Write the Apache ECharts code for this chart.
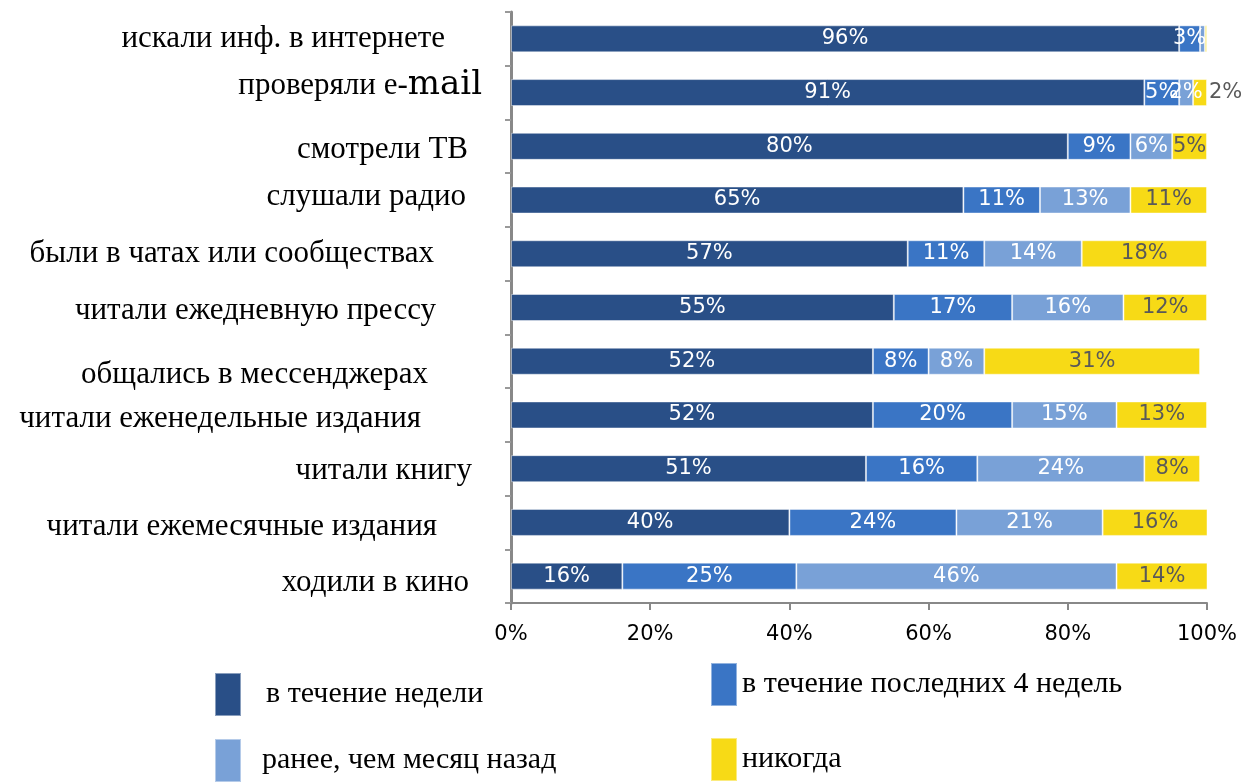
<!DOCTYPE html>
<html>
<head>
<meta charset="utf-8">
<script src="https://cdn.jsdelivr.net/npm/echarts@6/dist/echarts.min.js"></script>
<style>
  html, body { margin: 0; padding: 0; background: #ffffff; }
  #chart { width: 1241px; height: 782px; }
</style>
</head>
<body>
<div id="chart"></div>
<script>
// Activities, top to bottom
const categories = [
  'искали инф. в интернете',
  'проверяли e-mail',
  'смотрели ТВ',
  'слушали радио',
  'были в чатах или сообществах',
  'читали ежедневную прессу',
  'общались в мессенджерах',
  'читали еженедельные издания',
  'читали книгу',
  'читали ежемесячные издания',
  'ходили в кино'
];

// Share of respondents (%) by how recently they did it
const withinWeek    = [96, 91, 80, 65, 57, 55, 52, 52, 51, 40, 16];
const within4Weeks  = [3, 5, 9, 11, 11, 17, 8, 20, 16, 24, 25];
const overMonthAgo  = [0.7, 2, 6, 13, 14, 16, 8, 15, 24, 21, 46];
const never         = [0.3, 2, 5, 11, 18, 12, 31, 13, 8, 16, 14];

const seriesNames = ['в течение недели', 'в течение последних 4 недель', 'ранее, чем месяц назад', 'никогда'];
const xTickLabels = ['0%', '20%', '40%', '60%', '80%', '100%'];

// Styling
const colors = ['#294F87', '#3A75C5', '#79A1D7', '#F7DA16'];
const labelColors = ['#ffffff', '#ffffff', '#ffffff', '#595959'];
// per-category label nudges [right padding, vertical shift]
const labelNudge = [[58, 0], [21, -7], [35, 4], [37, -3], [69, 0], [67, 3], [75, 14], [82, 4], [31, 2], [66, 4], [34, 7]];

const serif = '"Liberation Serif", "Times New Roman", serif';
const sans = '"DejaVu Sans", Verdana, sans-serif';
const catFontSize = 31;

function padFor(dx, dy) {
  return [dy > 0 ? 2 * dy : 0, dx, dy < 0 ? -2 * dy : 0, 0];
}

const rich = {};
labelNudge.forEach(([dx, dy], i) => {
  rich['n' + i] = { fontFamily: serif, fontSize: catFontSize, color: '#000', padding: padFor(dx, dy) };
});
// "e-mail" row: the word "mail" is set in a larger face
const mailNudge = labelNudge[1];
rich.pre1 = { fontFamily: serif, fontSize: catFontSize, color: '#000', padding: padFor(0, mailNudge[1]) };
rich.mail1 = { fontFamily: '"DejaVu Serif", serif', fontSize: 34, color: '#000', padding: padFor(mailNudge[0], mailNudge[1]) };

function catLabel(value, index) {
  if (value.indexOf('e-mail') >= 0) {
    return '{pre1|' + value.replace(/mail$/, '') + '}{mail1|mail}';
  }
  return '{n' + index + '|' + value + '}';
}

const seriesData = [withinWeek, within4Weeks, overMonthAgo, never];

const series = seriesData.map((vals, s) => ({
  name: seriesNames[s],
  type: 'bar',
  stack: 'total',
  barWidth: 27,
  itemStyle: { color: colors[s], borderColor: 'rgba(255,255,255,0.45)', borderWidth: 1 },
  label: {
    show: true,
    position: 'inside',
    color: labelColors[s],
    fontFamily: sans,
    fontSize: 21,
    formatter: p => (p.value >= 1 ? Math.round(p.value) + '%' : '')
  },
  // a sliver too narrow for its label gets the label placed just outside
  data: vals.map(v => (s === 3 && v >= 1 && v <= 2)
    ? { value: v, label: { position: 'right', distance: 2, color: '#595959' } }
    : v)
}));

const legendPlaces = [
  { left: 214, top: 672, pad: [0, 0, 0, 20] },
  { left: 710, top: 662, pad: [8, 0, 0, 0] },
  { left: 214, top: 738, pad: [0, 0, 6, 16] },
  { left: 710, top: 737, pad: [0, 0, 6, 0] }
];

const legends = seriesNames.map((name, i) => ({
  data: [name],
  left: legendPlaces[i].left,
  top: legendPlaces[i].top,
  padding: 0,
  itemWidth: 26,
  itemHeight: 43,
  icon: 'rect',
  selectedMode: false,
  textStyle: { fontFamily: serif, fontSize: 30, color: '#000', padding: legendPlaces[i].pad }
}));

const chart = echarts.init(document.getElementById('chart'));
chart.setOption({
  animation: false,
  color: colors,
  legend: legends,
  grid: { left: 511, right: 34, top: 12, bottom: 179, containLabel: false },
  xAxis: {
    type: 'value',
    min: 0,
    max: 100,
    interval: 20,
    axisLine: { show: true, lineStyle: { color: '#888', width: 2 } },
    axisTick: { show: true, length: 7, lineStyle: { color: '#888', width: 2 } },
    splitLine: { show: false },
    axisLabel: {
      margin: 21,
      fontFamily: sans,
      fontSize: 21,
      color: '#000',
      formatter: v => xTickLabels[v / 20]
    }
  },
  yAxis: {
    type: 'category',
    inverse: true,
    data: categories,
    axisLine: { show: true, lineStyle: { color: '#888', width: 3 } },
    axisTick: { show: true, length: 6, lineStyle: { color: '#999', width: 2 } },
    axisLabel: { margin: 8, formatter: catLabel, rich: rich }
  },
  series: series
});
</script>
</body>
</html>
